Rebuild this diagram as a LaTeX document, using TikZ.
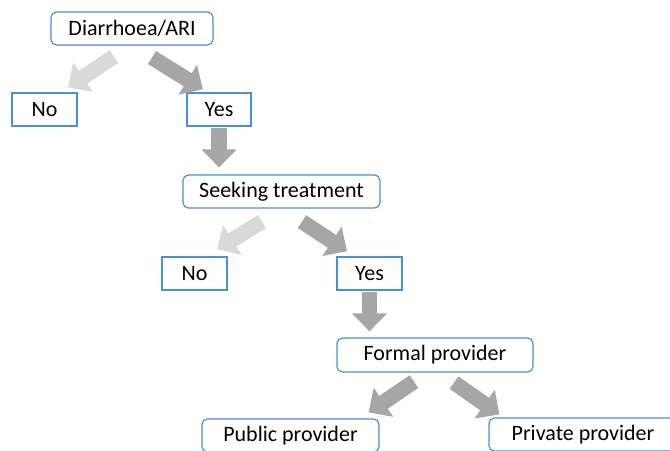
\documentclass[tikz,border=0pt]{standalone}
\usepackage{fontspec}
\setmainfont{Carlito}
\usepackage{tikz}
\usetikzlibrary{arrows.meta, calc}

\definecolor{boxblue}{RGB}{74,144,214}
\definecolor{lightarr}{RGB}{217,217,217}
\definecolor{darkarr}{RGB}{166,166,166}

\begin{document}
\begin{tikzpicture}[x=0.75pt, y=-0.75pt,
    sqbox/.style={rectangle, draw=boxblue, line width=1.1pt, fill=white,
        minimum height=24.75pt, inner sep=0pt, font=\fontsize{16.5}{20}\selectfont},
    rndbox/.style={sqbox, rounded corners=4pt, line width=0.9pt},
    noarrow/.style={draw=lightarr, line width=11.5pt,
        -{Triangle[length=13.5pt, width=25.5pt]}, color=lightarr},
    yesarrow/.style={noarrow, draw=darkarr, color=darkarr}]
    \useasboundingbox (0,0) rectangle (670,450);
    \clip (0,0) rectangle (670,450);

    % boxes
    \node[rndbox, minimum width=121.5pt] (dia) at (132,28.5) {Diarrhoea/ARI};
    \node[sqbox, minimum width=48.75pt] (no1) at (44.5,109.5) {No};
    \node[sqbox, minimum width=48pt] (yes1) at (219,109.5) {Yes};
    \node[rndbox, minimum width=147.75pt] (seek) at (281.5,191.5) {Seeking treatment};
    \node[sqbox, minimum width=48.75pt] (no2) at (194.5,273.5) {No};
    \node[sqbox, minimum width=48.75pt] (yes2) at (369.5,273.5) {Yes};
    \node[rndbox, minimum width=147pt, minimum height=25.5pt] (formal) at (435,355) {Formal provider};
    \node[rndbox, minimum width=132.75pt] (public) at (290.5,435.5) {Public provider};
    \node[rndbox, minimum width=141pt] (private) at (583,434.5) {Private provider};

    % first split
    \draw[noarrow] ($(dia.south)+(-18,11)$) -- ($(no1.north)+(23.5,-5)$);
    \draw[yesarrow] ($(dia.south)+(20,12)$) -- ($(yes1.north)+(-16,-3)$);
    \draw[yesarrow, shorten <=0.75pt, shorten >=5.25pt] (yes1.south) -- (yes1.south |- seek.north);

    % second split
    \draw[noarrow] ($(seek.south)+(-19.5,13)$) -- ($(no2.north)+(22.5,-7)$);
    \draw[yesarrow] ($(seek.south)+(20.5,13)$) -- ($(yes2.north)+(-22.5,-5)$);
    \draw[yesarrow, shorten <=0.75pt, shorten >=4.5pt] (yes2.south) -- (yes2.south |- formal.north);

    % provider split
    \draw[yesarrow] ($(formal.south)+(-21,9)$) -- ($(public.north east)+(-11,-6)$);
    \draw[yesarrow] ($(formal.south)+(19,10)$) -- ($(private.north west)+(11,-3)$);
\end{tikzpicture}
\end{document}
